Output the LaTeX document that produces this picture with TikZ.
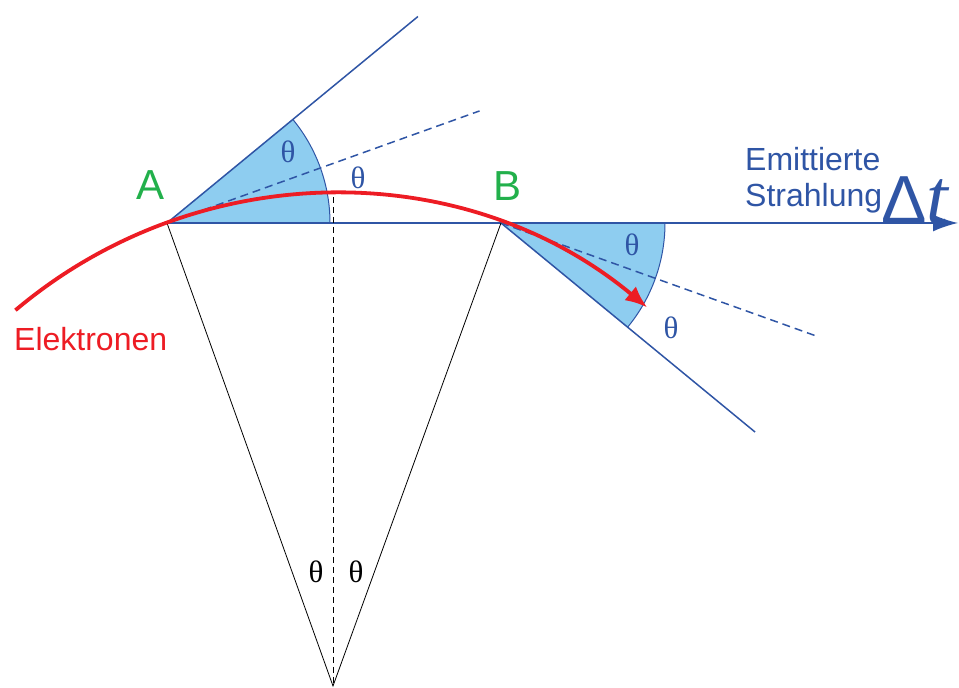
\documentclass[tikz,border=0pt]{standalone}
\usepackage{fontspec}
\setmainfont{Liberation Serif}
\newfontfamily\labelfont{Liberation Sans}
\usepackage{tikz}
\usetikzlibrary{calc, arrows.meta}
\definecolor{lineBlue}{HTML}{2F55A5}
\definecolor{wedgeBlue}{HTML}{8ECDF0}
\definecolor{beamRed}{HTML}{ED1C24}
\definecolor{pointGreen}{HTML}{22B04B}

\begin{document}
\begin{tikzpicture}[x=1pt, y=1pt,
    cone/.style={lineBlue, line width=1.5},
    tangentline/.style={lineBlue, line width=1.5, dash pattern=on 8pt off 5pt},
    radiusline/.style={black, line width=0.8},
    thetaBlue/.style={text=lineBlue, font=\fontsize{31}{31}\selectfont, inner sep=0},
    thetaBlack/.style={text=black, font=\fontsize{31}{31}\selectfont, inner sep=0},
    pointlabel/.style={text=pointGreen, font=\labelfont\fontsize{42}{42}\selectfont, inner sep=0}]
    \useasboundingbox (0,0) rectangle (959,688);
    \pgfmathsetmacro{\th}{atan(166/463)}
    \coordinate (P) at (333,2);
    \coordinate (A) at (167,465);
    \coordinate (B) at (501,465);
    \coordinate (Top) at (333,491);
    \coordinate (End) at (958,465);
    % light cones at A and B
    \fill[wedgeBlue] (A) -- ++(0:163) arc[start angle=0, end angle=2*\th, radius=163] -- cycle;
    \draw[lineBlue, line width=1] ($(A)+(0:163)$) arc[start angle=0, end angle=2*\th, radius=163];
    \fill[wedgeBlue] (B) -- ++(0:164) arc[start angle=0, end angle=-2*\th, radius=164] -- cycle;
    \draw[lineBlue, line width=1] ($(B)+(0:164)$) arc[start angle=0, end angle=-2*\th, radius=164];
    \draw[cone] (A) -- ++({2*\th}:325);
    \draw[tangentline] (A) -- ++(\th:332);
    \draw[cone] (B) -- ++({-2*\th}:329);
    \draw[tangentline] (B) -- ++({-\th}:336);
    \draw[cone, -{Latex[length=25, width=17]}] (A) -- (End);
    % radii to the centre of the orbit
    \draw[radiusline] (A) -- (P) -- (B);
    \draw[radiusline, dash pattern=on 6pt off 4pt] (Top) -- (P);
    % electron orbit
    \draw[beamRed, line width=3.8, -{Latex[length=22, width=18]}]
        ($(P)+(130.2:492)$) arc[start angle=130.2, end angle=50.3, radius=492];
    % labels
    \node[pointlabel] (labelA) at (151,503) {A};
    \node[pointlabel] (labelB) at (508,502) {B};
    \node[text=beamRed, font=\labelfont\fontsize{32}{38}\selectfont, anchor=base west, inner sep=0]
        (electrons) at (14,337) {Elektronen};
    \node[text=lineBlue, font=\labelfont\fontsize{32}{36}\selectfont, align=left, anchor=north west, inner sep=0]
        (radiation) at (745,541) {Emittierte\\Strahlung};
    \node[text=lineBlue, anchor=base west, inner sep=0] (deltat) at (881,464)
        {{\labelfont\fontsize{68}{68}\selectfont Δ}{\fontsize{78}{78}\selectfont\itshape t}};
    \node[thetaBlue] (thetaA) at (288,536) {θ};
    \node[thetaBlue] (thetaAout) at (358,510) {θ};
    \node[thetaBlue] (thetaB) at (632,443) {θ};
    \node[thetaBlue] (thetaBout) at (671,360) {θ};
    \node[thetaBlack] (thetaL) at (316,116) {θ};
    \node[thetaBlack] (thetaR) at (356,116) {θ};
\end{tikzpicture}
\end{document}
